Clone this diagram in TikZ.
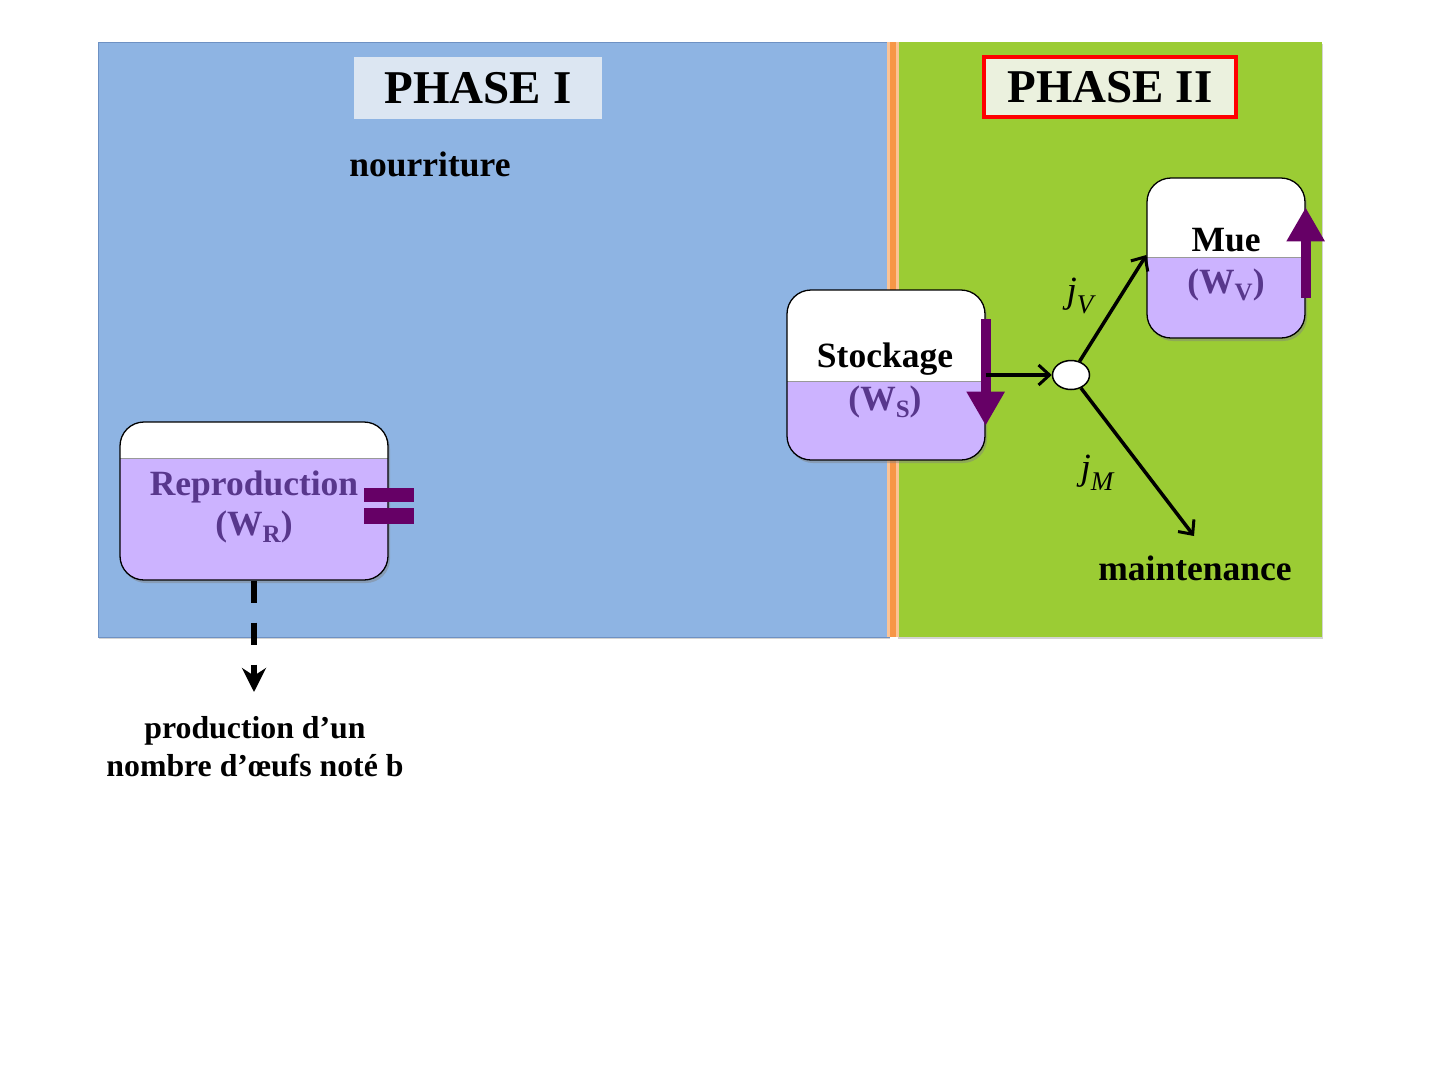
\documentclass[tikz,border=0pt]{standalone}
\usepackage{fontspec}
\setmainfont{Liberation Serif}
\usetikzlibrary{arrows.meta,shapes.geometric,shadows,calc}
\definecolor{pblue}{RGB}{142,180,227}
\definecolor{pblueline}{RGB}{110,145,195}
\definecolor{pgreen}{RGB}{155,204,52}
\definecolor{phaseone}{RGB}{220,230,242}
\definecolor{phasetwo}{RGB}{235,241,222}
\definecolor{lav}{RGB}{204,179,255}
\definecolor{ptext}{RGB}{88,55,140}
\definecolor{parrow}{RGB}{102,0,102}
\definecolor{orbar}{RGB}{247,150,70}
\definecolor{orlight}{RGB}{250,195,150}
\begin{document}
\begin{tikzpicture}[x=1pt,y=-1pt,
  lbl/.style={font=\fontsize{35.5}{42}\selectfont\bfseries, inner sep=0pt, anchor=base},
  plbl/.style={lbl, text=ptext},
  phase/.style={font=\fontsize{47}{56}\selectfont\bfseries, inner sep=0pt},
  box/.style={draw=black, line width=1.3pt, rounded corners=24pt, fill=white, inner sep=0pt,
    drop shadow={shadow xshift=2pt,shadow yshift=-3pt,opacity=0.45}},
  lowfill/.style={path picture={
    \fill[lav, sharp corners] (path picture bounding box.south west) rectangle ([yshift=#1]path picture bounding box.south east);
    \draw[gray!80,line width=0.8pt, sharp corners] ([yshift=#1]path picture bounding box.south west) -- ([yshift=#1]path picture bounding box.south east);}},
  conn/.style={line width=3.5pt, -{Straight Barb[length=11pt,width=20pt,line width=3pt]}},
  bigarrow/.style={parrow, line width=10pt, -{Triangle[length=34pt,width=36pt]}},
  jlbl/.style={font=\fontsize{37}{42}\selectfont\itshape, inner sep=0pt, anchor=base}
]
\path[use as bounding box] (0,0) rectangle (1440,1080);

% panels
\fill[pblue, draw=pblueline, line width=1pt, drop shadow={shadow xshift=1pt,shadow yshift=-2pt,opacity=0.35}] (98,42) rectangle (889,637);
\fill[pgreen, drop shadow={shadow xshift=1pt,shadow yshift=-2pt,opacity=0.35}] (897,42) rectangle (1322,637);
\fill[orlight] (887,42) rectangle (899,637);
\fill[orbar] (890,42) rectangle (896,637);

% phase titles
\node[phase, fill=phaseone, minimum width=248pt, minimum height=62pt] (p1) at (478,88) {PHASE I};
\node[phase, fill=phasetwo, draw=red, line width=4pt, minimum width=252pt, minimum height=60pt] (p2) at (1110,87) {PHASE II};

\node[lbl] (nour) at (430,176) {nourriture};

% boxes
\node[box, lowfill=79pt, minimum width=198pt, minimum height=170pt] (stock) at (886,375) {};
\node[box, lowfill=81pt, minimum width=158pt, minimum height=160pt] (mue) at (1226,258) {};
\node[box, lowfill=122pt, minimum width=268pt, minimum height=158pt] (repro) at (254,501) {};

\node[lbl] (stocklbl) at (885,367) {Stockage};
\node[plbl] (ws) at (885,410) {(W\raisebox{-0.22em}{\fontsize{25}{25}\selectfont S})};
\node[lbl] (muelbl) at (1226,251) {Mue};
\node[plbl] (wv) at (1226,293) {(W\raisebox{-0.22em}{\fontsize{25}{25}\selectfont V})};
\node[plbl] (reprolbl) at (254,495) {Reproduction};
\node[plbl] (wr) at (254,535) {(W\raisebox{-0.22em}{\fontsize{25}{25}\selectfont R})};

% purple arrows and equal sign
\draw[bigarrow] ([yshift=-30pt]stock.north east) -- ([yshift=35pt]stock.south east);
\draw[bigarrow] ([yshift=41pt]mue.south east) -- ([yshift=-30pt]mue.north east);
\fill[parrow] (364,488) rectangle (414,502);
\fill[parrow] (364,508) rectangle (414,524);

% hub and connectors
\node[ellipse, draw=black, fill=white, line width=1.5pt, minimum width=37pt, minimum height=29pt, inner sep=0pt] (hub) at (1071,375) {};
\coordinate (mtip) at (1194,536);
\draw[conn] (stock.east) -- (hub);
\draw[conn] (hub) -- ([yshift=3pt]mue.west);
\draw[conn] (hub) -- (mtip);

\node[jlbl] (jv) at (1080,302) {j\raisebox{-0.3em}{\fontsize{27}{27}\selectfont V}};
\node[jlbl] (jm) at (1097,479) {j\raisebox{-0.3em}{\fontsize{27}{27}\selectfont M}};
\node[lbl] (maint) at (1195,580) {maintenance};

% egg output
\coordinate (eggtip) at (254,692);
\draw[line width=6pt, dash pattern=on 22pt off 20pt, -{Stealth[length=24pt,width=24pt]}] (repro.south) -- (eggtip);
\node[font=\fontsize{31.8}{38}\selectfont\bfseries, align=center, inner sep=0pt, anchor=north] (eggs) at (255,716) {production d’un\\nombre d’œufs noté b};
\end{tikzpicture}
\end{document}
